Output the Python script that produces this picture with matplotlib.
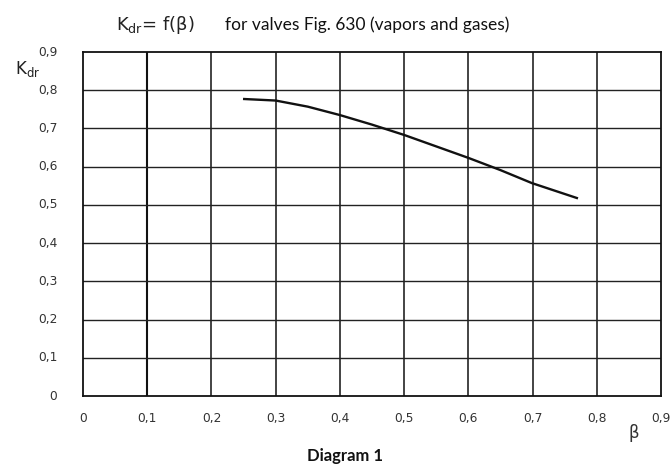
import matplotlib
matplotlib.use("Agg")
import matplotlib.pyplot as plt
import numpy as np

beta = [0.251, 0.300, 0.350, 0.400, 0.450, 0.500, 0.550, 0.600, 0.650, 0.699, 0.769]
kdr = [0.777, 0.773, 0.757, 0.735, 0.710, 0.683, 0.653, 0.623, 0.591, 0.557, 0.518]
x_ticks = [0, 0.1, 0.2, 0.3, 0.4, 0.5, 0.6, 0.7, 0.8, 0.9]
y_ticks = [0, 0.1, 0.2, 0.3, 0.4, 0.5, 0.6, 0.7, 0.8, 0.9]
x_labels = ["0", "0,1", "0,2", "0,3", "0,4", "0,5", "0,6", "0,7", "0,8", "0,9"]
y_labels = ["0", "0,1", "0,2", "0,3", "0,4", "0,5", "0,6", "0,7", "0,8", "0,9"]

fig = plt.figure(figsize=(6.72, 4.71), dpi=100)
ax = fig.add_axes([83/672, 1-396/471, (661-83)/672, (396-52)/471])
ax.set_xlim(0, 0.9)
ax.set_ylim(0, 0.9)
ax.set_xticks(x_ticks)
ax.set_yticks(y_ticks)
ax.set_xticklabels([])
ax.set_yticklabels([])
ax.tick_params(length=0)
for s in ax.spines.values():
    s.set_linewidth(1.3)
    s.set_color("#111111")
for t in x_ticks[1:-1]:
    ax.axvline(t, color="#111111", lw=1.5 if t == 0.1 else 1.1, zorder=1)
for t in y_ticks[1:-1]:
    ax.axhline(t, color="#222222", lw=1.0, zorder=1)

ax.plot(beta, kdr, color="#111111", lw=1.7, zorder=3)

tick_font = dict(family="DejaVu Sans", fontsize=8.8, color="#333333")
for t, l in zip(x_ticks, x_labels):
    ax.text(t, -0.058, l, ha="center", va="center", **tick_font)
for t, l in zip(y_ticks, y_labels):
    ax.text(-0.04, t, l, ha="right", va="center", **tick_font)

fig.text(634/672, 1-433/471, "β", ha="center", va="center", fontsize=12, color="#333333")
fig.text(28/672, 1-69/471, r"K$_{\mathregular{dr}}$", ha="center", va="center",
         fontsize=12, color="#222222", family="DejaVu Sans")
fig.text(155/672, 1-25/471, r"K$_{\mathregular{dr}}$= f(β)", ha="center", va="center",
         fontsize=13, color="#222222", family="DejaVu Sans")
fig.text(225/672, 1-25/471, "for valves Fig. 630 (vapors and gases)", ha="left", va="center",
         fontsize=12.5, color="#111111", family="Lato")
fig.text(345/672, 1-456/471, "Diagram 1", ha="center", va="center",
         fontsize=12, fontweight="bold", color="#111111", family="Lato")

fig.savefig("out.png", dpi=100)
